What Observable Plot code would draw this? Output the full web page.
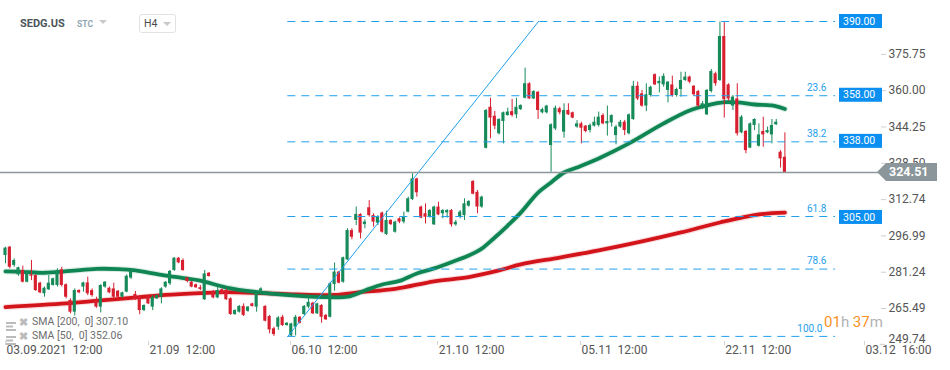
<!DOCTYPE html>
<html><head><meta charset="utf-8">
<script src="https://cdn.jsdelivr.net/npm/d3@7"></script>
<script src="https://cdn.jsdelivr.net/npm/@observablehq/plot@0.6"></script>
<style>
html,body{margin:0;padding:0;background:#fff;}
#wrap{position:relative;width:950px;height:370px;font-family:Roboto,sans-serif;overflow:hidden;}
#chart svg text{white-space:pre;}
#chart [aria-label^="y-axis"] line,#chart [aria-label="y-axis tick"] path{stroke:#cfcfcf;}
.ov{position:absolute;line-height:1;white-space:pre;}
.tri{position:absolute;width:0;height:0;border-left:4px solid transparent;border-right:4px solid transparent;border-top:4px solid #c9c9c9;}
</style></head><body>
<div id="wrap">
  <div id="chart"></div>
  <div class="ov" style="left:20px;top:18px;font-weight:bold;font-size:11px;color:#4b555b">SEDG.US</div>
  <div class="ov" style="left:77px;top:20px;font-weight:bold;font-size:8.5px;color:#8fa6b5">STC</div>
  <div class="tri" style="left:99px;top:20px"></div>
  <div class="ov" style="left:139px;top:14px;width:37px;height:19px;box-sizing:border-box;border:1px solid #e2e2e2;border-radius:3px"></div>
  <div class="ov" style="left:144px;top:19px;font-size:10.5px;color:#4a4a4a">H4</div>
  <div class="tri" style="left:163px;top:22px"></div>
  <div class="ov" style="left:6px;top:318px"><svg width="10" height="9"><rect x="0" y="0" width="10" height="2" fill="#bbb"/><rect x="0" y="3.5" width="7" height="2" fill="#bbb"/><rect x="0" y="7" width="10" height="2" fill="#bbb"/></svg></div>
  <div class="ov" style="left:19px;top:317px;font-size:11px;font-weight:bold;color:#bbb">✖</div>
  <div class="ov" style="left:32px;top:317px;font-size:10.5px;color:#6d6d6d">SMA [200,  0] 307.10</div>
  <div class="ov" style="left:6px;top:332px"><svg width="10" height="9"><rect x="0" y="0" width="10" height="2" fill="#bbb"/><rect x="0" y="3.5" width="7" height="2" fill="#bbb"/><rect x="0" y="7" width="10" height="2" fill="#bbb"/></svg></div>
  <div class="ov" style="left:19px;top:331px;font-size:11px;font-weight:bold;color:#bbb">✖</div>
  <div class="ov" style="left:32px;top:331px;font-size:10.5px;color:#6d6d6d">SMA [50,  0] 352.06</div>
  <div class="ov" style="left:824px;top:315px;font-size:15px"><span style="color:#f6921e">01</span><span style="color:#b3b3b3">h </span><span style="color:#f6921e">37</span><span style="color:#b3b3b3">m</span></div>
</div>
<script>
// ---------- data ----------
const candleOpen = [
288.5,292.1,284.2,280.1,282.0,276.9,280.1,279.8,276.5,271.9,
273.6,275.5,275.5,282.3,275.8,269.0,263.9,273.3,274.8,276.6,
273.3,269.0,266.1,274.8,274.3,274.0,273.0,270.4,272.6,278.7,
271.6,270.4,264.6,270.7,266.1,269.7,270.4,274.8,276.2,282.0,
287.3,286.3,278.7,276.9,275.8,274.5,269.3,280.8,272.6,270.1,
273.6,273.3,269.7,262.9,263.9,266.4,264.3,267.5,266.1,273.0,
266.4,262.0,256.7,257.4,261.7,258.1,253.6,257.4,261.7,262.9,
266.1,267.8,263.2,266.8,262.5,261.7,275.9,281.3,276.9,286.6,
299.3,303.7,306.3,301.9,309.2,305.8,302.5,306.9,297.6,303.7,
298.6,304.4,303.0,307.3,312.8,321.7,309.5,306.6,305.1,301.8,
309.5,306.6,307.0,308.0,301.8,305.1,305.8,309.9,320.6,315.9,
309.5,335.0,352.8,348.9,341.3,346.6,349.2,350.9,349.5,351.8,
356.7,363.0,356.4,359.3,350.4,350.4,336.2,343.4,352.1,342.0,
351.4,350.4,344.2,345.6,344.6,342.7,344.6,344.9,349.2,345.6,
346.0,340.5,344.2,346.3,341.3,347.5,361.9,358.6,353.3,357.9,
366.9,363.0,362.5,360.1,362.5,357.9,360.5,364.4,365.9,361.9,
359.6,352.4,349.5,359.6,367.3,364.4,383.5,362.5,353.3,356.4,
341.7,342.3,335.1,344.9,335.9,342.3,341.7,340.8,345.2,333.3,
331.1];
const candleHigh = [
292.1,292.4,287.0,283.4,283.9,281.0,286.3,280.1,276.9,274.8,
279.8,278.7,282.7,283.4,276.2,269.7,274.0,273.6,276.9,279.1,
274.0,270.4,275.8,277.2,274.8,276.5,273.3,272.6,280.1,282.7,
272.9,271.1,267.1,271.1,271.1,271.4,274.5,277.2,282.0,287.6,
287.6,287.0,279.1,277.2,276.1,275.5,282.0,281.1,273.3,274.8,
274.0,274.0,270.1,265.0,266.8,267.5,266.4,267.8,272.6,274.5,
266.7,262.5,257.4,262.0,262.5,259.4,259.1,262.5,262.0,266.8,
270.1,268.2,267.8,267.2,262.9,276.9,285.2,281.6,287.8,300.1,
300.1,309.5,306.6,304.0,312.3,306.6,305.8,307.3,307.7,304.0,
303.4,304.8,307.3,313.8,323.9,322.0,309.9,310.9,308.4,309.9,
311.6,308.4,308.4,308.4,303.7,308.0,313.1,312.3,321.0,316.7,
314.2,351.8,356.7,351.0,347.8,350.7,352.4,356.2,356.7,353.8,
369.8,363.4,360.0,359.6,352.4,353.6,345.6,353.3,352.8,354.3,
354.3,350.7,347.0,346.3,344.9,345.6,348.5,350.7,350.0,353.3,
349.5,344.9,347.1,347.1,349.9,364.0,363.7,360.1,363.0,361.9,
367.3,365.9,367.3,363.9,366.3,361.1,368.0,368.0,366.3,362.2,
360.1,355.3,360.5,369.2,368.0,389.8,389.5,363.0,357.9,363.0,
349.2,342.7,346.0,347.8,345.6,348.5,344.2,347.5,347.5,334.0,
341.7];
const candleLow = [
284.9,282.7,283.4,279.5,276.6,276.6,277.6,272.9,271.9,270.4,
273.3,275.2,274.8,274.8,269.7,263.2,262.2,271.9,272.6,271.1,
270.4,265.6,263.6,274.3,271.9,269.7,270.0,270.0,272.3,278.1,
269.0,262.8,264.2,267.2,264.6,269.4,267.5,274.3,275.5,281.6,
284.9,281.6,276.6,274.5,274.2,273.3,269.0,279.1,269.7,269.7,
271.6,269.0,262.5,262.5,263.5,262.0,263.9,266.1,263.9,272.2,
259.7,254.5,253.4,256.0,257.7,257.8,253.4,253.6,258.8,262.5,
265.4,262.9,262.9,259.1,260.3,261.4,273.0,276.2,276.5,286.3,
295.3,301.5,295.7,300.1,305.1,300.8,301.5,298.2,297.2,301.5,
298.2,302.3,302.2,307.0,312.3,313.8,304.4,302.2,304.7,301.5,
305.8,304.4,304.7,300.8,301.2,304.4,303.7,309.5,314.8,306.6,
309.0,334.7,339.1,343.1,340.8,336.9,348.9,348.5,347.8,351.4,
356.4,356.2,356.1,347.5,349.9,349.9,324.6,342.7,349.5,339.4,
349.2,347.8,343.7,336.9,341.7,341.7,344.2,344.2,345.2,340.3,
344.2,336.5,343.7,340.5,340.8,347.1,355.7,352.8,350.9,357.2,
362.2,359.0,361.5,354.7,357.2,357.2,357.2,364.0,363.0,357.5,
352.8,351.8,349.2,359.0,361.9,364.0,348.1,355.3,351.4,340.3,
341.3,332.6,334.8,342.7,335.5,335.5,341.3,336.9,344.9,326.4,
324.5];
const candleClose = [
291.7,283.4,286.3,283.2,276.9,280.5,279.5,273.3,272.3,274.3,
276.5,278.4,282.0,275.5,270.4,263.9,273.3,272.3,276.6,271.9,
271.1,266.1,275.5,276.9,272.3,270.4,270.4,272.3,279.5,282.0,
269.4,264.6,266.8,267.5,270.4,271.1,274.0,276.9,281.6,287.3,
285.3,282.0,277.2,274.8,274.5,273.8,280.5,279.4,270.1,273.3,
271.9,269.3,262.9,264.6,266.4,262.5,266.1,266.4,272.2,274.0,
260.0,256.2,254.2,261.4,258.1,259.1,258.8,261.7,259.1,266.4,
268.2,263.2,267.5,261.7,260.6,276.2,281.3,276.5,287.5,299.3,
296.4,306.3,298.2,303.0,305.8,303.0,305.4,298.6,303.7,301.9,
303.0,303.0,305.1,313.1,321.7,315.7,304.7,305.1,308.0,309.5,
306.1,308.0,308.0,301.8,302.9,307.3,310.9,311.9,315.1,309.5,
313.8,351.4,348.1,344.6,347.5,350.4,350.7,349.2,352.8,353.6,
363.0,356.4,359.6,351.4,351.8,353.3,345.2,352.4,350.4,351.4,
349.5,348.1,345.6,343.7,342.3,344.9,346.3,348.5,345.6,346.6,
349.2,344.2,346.3,342.7,349.5,361.9,356.4,353.3,358.2,361.5,
362.5,364.0,366.2,363.7,357.9,360.5,364.4,365.9,363.7,358.2,
353.3,354.3,360.1,368.3,363.0,383.5,356.1,356.4,357.2,341.3,
348.5,334.0,345.6,347.5,340.8,340.8,342.7,344.9,346.3,330.4,
324.51];

const sma50Idx = [0,4,9,15,21,26,30,36,41,45,51,59,67,75,79,83,87,91,95,99,103,107,110,113,116,119,123,126,129,132,137,144,152,158,162,166,169,173,177,180];
const sma50Val = [281.6,281.4,281.0,281.8,282.7,282.6,282.0,280.1,278.7,277.6,274.6,272.4,271.1,270.4,270.6,273.3,275.9,277.5,280.7,282.9,285.6,288.5,291.5,296.3,301.5,307.1,315.8,320.2,324.5,326.7,330.6,337.1,345.8,351.4,353.6,355.0,354.9,354.0,353.6,352.06];
const sma200Idx = [0,14,22,31,37,45,51,59,67,76,82,90,99,107,114,119,128,137,147,156,165,174,180];
const sma200Val = [266.1,267.7,269.0,270.4,271.4,272.2,272.6,272.2,271.6,271.4,272.6,274.0,277.3,279.1,282.0,284.6,287.6,290.7,294.6,298.5,302.8,306.3,307.1];

const yTickValues = [375.75,360.00,344.25,328.50,312.74,296.99,281.24,265.49,249.74];
const xTickIdx = [0,33,65.8,99.8,132.8,166,198.4];
const xTickLabels = ["03.09.2021  12:00","21.09  12:00","06.10  12:00","21.10  12:00","05.11  12:00","22.11  12:00","03.12  16:00"];

const fibLabels = ["0.0","23.6","38.2","61.8","78.6","100.0"];
const fibLevels = [390,357.8,337.8,305.4,282.6,253.4];
const fibFromIdx = 65.2, fibToIdx = 191.7, fibLabelIdx = 189.6;
const levelBoxes = [390,358,338,305];
const trendIdx = [65.2,123.1];
const trendVal = [253.4,390];
const lastPrice = 324.51;

// ---------- layout ----------
const W = 950, H = 370, PLOT_RIGHT = 880, X0 = 5, STEP = 4.33;
const GREEN = "#178a5a", RED = "#d71f30", MA_GREEN = "#0e8553", MA_RED = "#d3141b", FIB = "#1fa0ec";

const candles = candleOpen.map((o,i)=>({i,o,h:candleHigh[i],l:candleLow[i],c:candleClose[i]}));
const up = candles.filter(d=>d.c>=d.o), down = candles.filter(d=>d.c<d.o);
const sma50 = sma50Idx.map((i,k)=>({i,v:sma50Val[k]}));
const sma200 = sma200Idx.map((i,k)=>({i,v:sma200Val[k]}));
const fib = fibLevels.map((v,k)=>({v,label:fibLabels[k],a:fibFromIdx,b:fibToIdx}));
const trend = trendIdx.map((i,k)=>({i,v:trendVal[k]}));
const xTicks = xTickIdx.map((i,k)=>({i,label:xTickLabels[k]}));

const bodyLo = d=>Math.min(d.o,d.c), bodyHi = d=>Math.max(d.o,d.c,Math.min(d.o,d.c)+0.45);
const bodyMarks = (data, color) => [
  Plot.ruleX(data,{x:"i",y1:"l",y2:"h",stroke:color,strokeWidth:1}),
  Plot.rect(data,{x1:d=>d.i-0.36,x2:d=>d.i+0.36,y1:bodyLo,y2:bodyHi,fill:color})
];

const plot = Plot.plot({
  width:W,height:H,
  marginLeft:0,marginRight:W-PLOT_RIGHT,marginTop:15,marginBottom:25,
  style:{background:"white",fontFamily:"Roboto, sans-serif",fontSize:"12px",color:"#555"},
  x:{type:"linear",domain:[-X0/STEP,(PLOT_RIGHT-X0)/STEP],axis:null,label:null},
  y:{domain:[249.45,392.6],axis:"right",ticks:yTickValues.slice(0,8),tickFormat:d=>d.toFixed(2),tickSize:5,tickPadding:3,label:null},
  marks:[
    Plot.line(sma200,{x:"i",y:"v",stroke:MA_RED,strokeWidth:6,strokeOpacity:0.15,curve:"catmull-rom"}),
    Plot.line(sma200,{x:"i",y:"v",stroke:MA_RED,strokeWidth:3.8,curve:"catmull-rom"}),
    Plot.line(sma50,{x:"i",y:"v",stroke:MA_GREEN,strokeWidth:6,strokeOpacity:0.15,curve:"catmull-rom"}),
    Plot.line(sma50,{x:"i",y:"v",stroke:MA_GREEN,strokeWidth:3.8,curve:"catmull-rom"}),
    ...bodyMarks(up,GREEN),
    ...bodyMarks(down,RED),
    Plot.ruleY(fib,{y:"v",x1:"a",x2:"b",stroke:FIB,strokeWidth:1,strokeDasharray:"8 6"}),
    Plot.line(trend,{x:"i",y:"v",stroke:FIB,strokeWidth:1}),
    Plot.ruleY([lastPrice],{stroke:"#8d989c",strokeWidth:1.5}),
    Plot.text(fib.filter(d=>d.v<389 && d.v>260),{x:()=>fibLabelIdx,y:"v",text:"label",textAnchor:"end",dy:-8,fill:FIB,fontSize:10}),
    Plot.text(fib.filter(d=>d.v<260),{x:()=>fibLabelIdx,y:"v",text:"label",textAnchor:"end",dx:-4,dy:-8,fill:FIB,fontSize:10}),
    Plot.text(xTicks,{x:"i",text:"label",frameAnchor:"bottom",textAnchor:"start",dx:1,dy:8,fill:"#555",fontSize:12}),
    Plot.text(yTickValues.slice(8),{y:d=>d,frameAnchor:"right",textAnchor:"start",dx:8,dy:-6,text:d=>d.toFixed(2),fill:"#555",fontSize:12})
  ]
});
document.getElementById("chart").appendChild(plot);

// ---------- overlays positioned through Plot's scales ----------
const sx = plot.scale("x"), sy = plot.scale("y");
const svg = d3.select(plot);
const g = svg.append("g").attr("text-anchor","start");
// x tick marks
xTickIdx.forEach(i=>{
  const x = Math.round(sx.apply(i))+0.5;
  g.append("line").attr("x1",x).attr("x2",x).attr("y1",341).attr("y2",345).attr("stroke","#d5d5d5");
});
// 249.74 tick
g.append("line").attr("x1",PLOT_RIGHT).attr("x2",PLOT_RIGHT+5).attr("y1",sy.apply(249.74)).attr("y2",sy.apply(249.74)).attr("stroke","#cfcfcf");
// level boxes
levelBoxes.forEach(v=>{
  const y = sy.apply(v);
  g.append("rect").attr("x",839).attr("y",y-7).attr("width",43).attr("height",14).attr("fill","#0b8ff0");
  g.append("text").attr("x",843).attr("y",y+3.6).attr("text-anchor","start").attr("fill","white").attr("font-size",10.5).attr("font-family","Roboto, sans-serif").text(v.toFixed(2));
});
// last price tag
{
  const y = sy.apply(lastPrice);
  g.append("path").attr("d",`M877,${y} L886,${y-9} L937,${y-9} L937,${y+9} L886,${y+9} Z`).attr("fill","#8a969a");
  g.append("text").attr("x",889).attr("y",y+4.5).attr("text-anchor","start").attr("fill","white").attr("font-size",12.5).attr("font-weight","bold").attr("font-family","Roboto, sans-serif").text(lastPrice.toFixed(2));
}
</script>
</body></html>
